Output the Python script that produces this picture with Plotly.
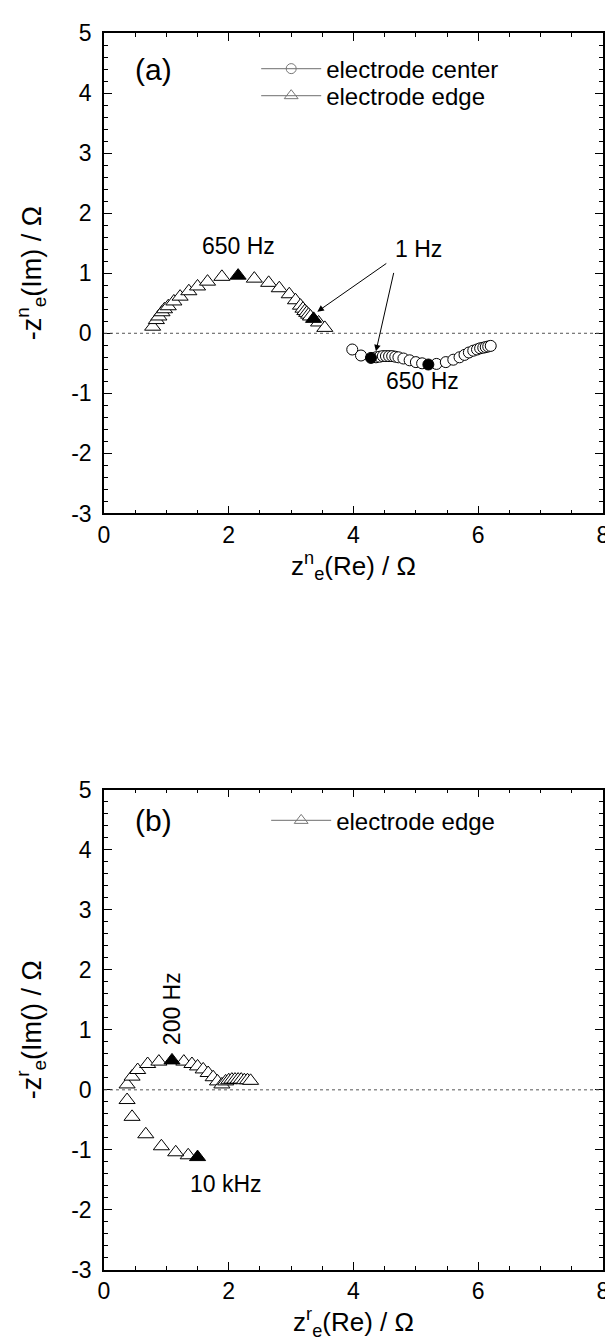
import plotly.graph_objects as go

# ---------------- data ----------------
# Panel (a): electrode edge (open triangles)
a_edge_re = [0.78, 0.84, 0.88, 0.93, 0.97, 1.03, 1.12, 1.22, 1.36, 1.50, 1.66, 1.89,
             2.41, 2.64, 2.81, 2.97, 3.07, 3.15, 3.19, 3.22, 3.25, 3.28, 3.31, 3.44, 3.54]
a_edge_im = [0.11, 0.22, 0.28, 0.35, 0.40, 0.45, 0.53, 0.61, 0.70, 0.78, 0.86, 0.94,
             0.91, 0.84, 0.75, 0.65, 0.55, 0.46, 0.41, 0.37, 0.34, 0.31, 0.28, 0.18, 0.09]
# Panel (a): electrode edge, highlighted frequencies (650 Hz, 1 Hz)
a_edge_mark_re = [2.15, 3.36]
a_edge_mark_im = [0.96, 0.24]

# Panel (a): electrode center (open circles)
a_center_re = [3.98, 4.12, 4.36, 4.42, 4.47, 4.52, 4.57, 4.62, 4.67, 4.72, 4.80, 4.90, 5.00,
               5.10, 5.33, 5.48, 5.60, 5.70, 5.78, 5.85, 5.92, 5.98, 6.03, 6.08, 6.12, 6.16, 6.20]
a_center_im = [-0.27, -0.37, -0.40, -0.39, -0.38, -0.38, -0.38, -0.38, -0.39, -0.40, -0.42,
               -0.45, -0.48, -0.50, -0.51, -0.48, -0.44, -0.40, -0.36, -0.32, -0.29, -0.27,
               -0.25, -0.24, -0.23, -0.22, -0.21]
# Panel (a): electrode center, highlighted frequencies (1 Hz, 650 Hz)
a_center_mark_re = [4.28, 5.20]
a_center_mark_im = [-0.41, -0.52]

# Panel (b): electrode edge (open triangles)
b_edge_re = [1.35, 1.15, 0.92, 0.67, 0.45, 0.37, 0.37, 0.45, 0.54, 0.70, 0.88, 1.28, 1.41,
             1.50, 1.59, 1.67, 1.75, 1.82, 1.89, 1.95, 2.00, 2.05, 2.10, 2.15, 2.20, 2.25,
             2.30, 2.35]
b_edge_im = [-1.09, -1.04, -0.94, -0.74, -0.45, -0.17, 0.09, 0.22, 0.33, 0.43, 0.47, 0.47,
             0.43, 0.39, 0.34, 0.28, 0.21, 0.14, 0.09, 0.14, 0.16, 0.17, 0.17, 0.17, 0.17,
             0.16, 0.16, 0.15]
# Panel (b): highlighted frequencies (200 Hz, 10 kHz)
b_edge_mark_re = [1.09, 1.50]
b_edge_mark_im = [0.49, -1.12]

x_ticks = [0, 2, 4, 6, 8]
x_tick_labels = ["0", "2", "4", "6", "8"]
y_ticks = [-3, -2, -1, 0, 1, 2, 3, 4, 5]
y_tick_labels = ["-3", "-2", "-1", "0", "1", "2", "3", "4", "5"]

FONT = "Liberation Sans, Arial, sans-serif"
TRI = 14
CIR = 11

# vertical layout (paper fractions of the plotting area)
A_DOM = [0.6116, 1.0]
B_DOM = [0.0, 0.3884]

def paper_y(dom, val):
    return dom[0] + (val + 3) / 8 * (dom[1] - dom[0])

fig = go.Figure()

def open_marker(symbol, size):
    return dict(symbol=symbol, size=size, color="white", line=dict(color="black", width=1))

def filled_marker(symbol, size):
    return dict(symbol=symbol, size=size, color="black", line=dict(color="black", width=1))

def legend_entry(name, symbol, size, legend, xa, ya):
    return go.Scatter(x=[None], y=[None], mode="lines+markers", xaxis=xa, yaxis=ya,
                      name=name, legend=legend, line=dict(color="#8a8a8a", width=1.2),
                      marker=dict(symbol=symbol, size=size, color="#777777",
                                  line=dict(width=1)))

# Panel (a)
fig.add_trace(go.Scatter(x=a_edge_re, y=a_edge_im, mode="markers", xaxis="x", yaxis="y",
                         marker=open_marker("triangle-up", TRI), showlegend=False))
fig.add_trace(go.Scatter(x=a_edge_mark_re, y=a_edge_mark_im, mode="markers", xaxis="x", yaxis="y",
                         marker=filled_marker("triangle-up", TRI), showlegend=False))
fig.add_trace(go.Scatter(x=a_center_re, y=a_center_im, mode="markers", xaxis="x", yaxis="y",
                         marker=open_marker("circle", CIR), showlegend=False))
fig.add_trace(go.Scatter(x=a_center_mark_re, y=a_center_mark_im, mode="markers", xaxis="x", yaxis="y",
                         marker=filled_marker("circle", CIR), showlegend=False))
fig.add_trace(legend_entry("electrode center", "circle-open", 10, "legend", "x", "y"))
fig.add_trace(legend_entry("electrode edge", "triangle-up-open", 12, "legend3", "x", "y"))

# Panel (b)
fig.add_trace(go.Scatter(x=b_edge_re, y=b_edge_im, mode="markers", xaxis="x2", yaxis="y2",
                         marker=open_marker("triangle-up", TRI), showlegend=False))
fig.add_trace(go.Scatter(x=b_edge_mark_re, y=b_edge_mark_im, mode="markers", xaxis="x2", yaxis="y2",
                         marker=filled_marker("triangle-up", TRI), showlegend=False))
fig.add_trace(legend_entry("electrode edge", "triangle-up-open", 12, "legend2", "x2", "y2"))

def xaxis(anchor, title, standoff):
    return dict(anchor=anchor, range=[0, 8], tickvals=x_ticks, ticktext=x_tick_labels,
                ticks="inside", ticklen=8, tickwidth=1.3, tickcolor="black", showline=True,
                linecolor="black", linewidth=1.6, mirror="allticks", showgrid=False,
                zeroline=False,
                minor=dict(dtick=0.5, ticks="inside", ticklen=4, tickcolor="black", tickwidth=1.3),
                tickfont=dict(family=FONT, size=23, color="black"),
                title=dict(text=title, font=dict(family=FONT, size=26, color="black"),
                           standoff=standoff))

def yaxis(anchor, domain, title):
    return dict(anchor=anchor, domain=domain, range=[-3, 5], tickvals=y_ticks,
                ticktext=y_tick_labels, ticks="inside", ticklen=8, tickwidth=1.3,
                tickcolor="black", showline=True, linecolor="black", linewidth=1.6,
                mirror="allticks", showgrid=False, zeroline=False, ticklabelstandoff=6,
                minor=dict(dtick=0.2, ticks="inside", ticklen=4, tickcolor="black", tickwidth=1.3),
                tickfont=dict(family=FONT, size=23, color="black"),
                title=dict(text=title, font=dict(family=FONT, size=27, color="black"), standoff=22))

ann_font = dict(family=FONT, size=23, color="black")
lab_font = dict(family=FONT, size=30, color="black")
annotations = [
    dict(text="(a)", x=0.46, y=4.4, xref="x", yref="y", xanchor="left", showarrow=False,
         font=lab_font),
    dict(text="650 Hz", x=2.15, y=1.45, xref="x", yref="y", showarrow=False, font=ann_font),
    dict(text="1 Hz", x=5.05, y=1.4, xref="x", yref="y", showarrow=False, font=ann_font),
    dict(text="650 Hz", x=5.1, y=-0.8, xref="x", yref="y", showarrow=False, font=ann_font),
    dict(text="", x=3.42, y=0.36, ax=4.55, ay=1.18, xref="x", yref="y", axref="x", ayref="y",
         showarrow=True, arrowhead=2, arrowsize=1.3, arrowwidth=1, arrowcolor="black"),
    dict(text="", x=4.36, y=-0.3, ax=4.65, ay=1.03, xref="x", yref="y", axref="x", ayref="y",
         showarrow=True, arrowhead=2, arrowsize=1.3, arrowwidth=1, arrowcolor="black"),
    dict(text="(b)", x=0.46, y=4.48, xref="x2", yref="y2", xanchor="left", showarrow=False,
         font=lab_font),
    dict(text="200 Hz", x=1.09, y=1.36, xref="x2", yref="y2", showarrow=False, textangle=-90,
         font=ann_font),
    dict(text="10 kHz", x=1.95, y=-1.56, xref="x2", yref="y2", showarrow=False, font=ann_font),
]

shapes = [
    dict(type="line", xref="x domain", yref="y", x0=0, x1=1, y0=0, y1=0,
         line=dict(color="#555555", width=1, dash="dot")),
    dict(type="line", xref="x2 domain", yref="y2", x0=0, x1=1, y0=0, y1=0,
         line=dict(color="#555555", width=1, dash="dot")),
]

leg_common = dict(font=dict(family=FONT, size=24, color="black"), bgcolor="rgba(0,0,0,0)",
                  borderwidth=0, xanchor="left", yanchor="middle", itemwidth=60)

fig.update_layout(
    width=613, height=1340,
    margin=dict(l=96, r=13, t=16, b=78),
    paper_bgcolor="white", plot_bgcolor="white",
    font=dict(family=FONT, color="black"),
    xaxis=xaxis("y", "z<sup>n</sup><sub>e</sub>(Re) / Ω", 0),
    yaxis=yaxis("x", A_DOM, "-z<sup>n</sup><sub>e</sub>(Im) / Ω"),
    xaxis2=xaxis("y2", "z<sup>r</sup><sub>e</sub>(Re) / Ω", 0),
    yaxis2=yaxis("x2", B_DOM, "-z<sup>r</sup><sub>e</sub>(Im() / Ω"),
    annotations=annotations,
    shapes=shapes,
    legend=dict(x=0.305, y=paper_y(A_DOM, 4.4), **leg_common),
    legend3=dict(x=0.305, y=paper_y(A_DOM, 3.95), **leg_common),
    legend2=dict(x=0.325, y=paper_y(B_DOM, 4.48), **leg_common),
)

fig.write_html("out.html")
